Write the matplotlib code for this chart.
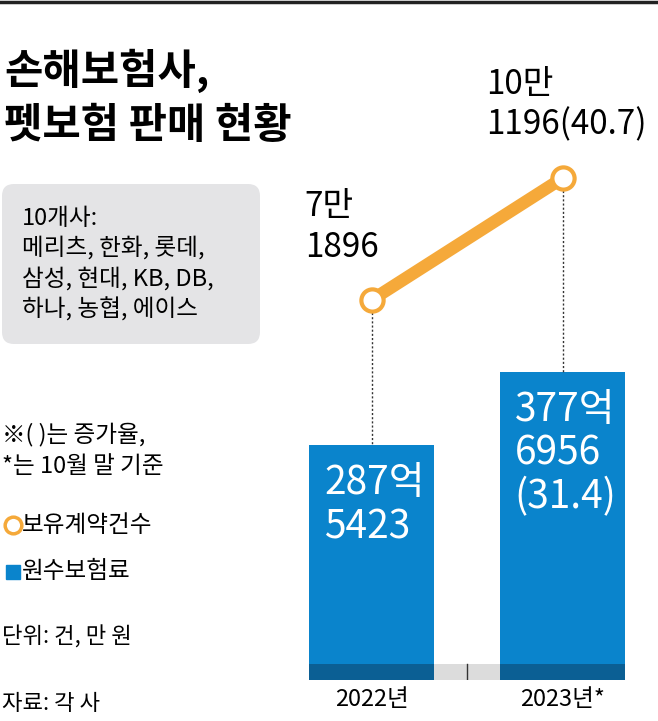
import matplotlib
matplotlib.use("Agg")
import matplotlib.pyplot as plt
from matplotlib.patches import FancyBboxPatch

plt.rcParams['font.family'] = ['Noto Sans CJK KR', 'DejaVu Sans']

years = ["2022년", "2023년*"]
premium = [287.5423, 377.6956]          # 억 원
contracts = [7.1896, 10.1196]           # 만 건
premium_labels = ["287억\n5423", "377억\n6956\n(31.4)"]
contract_labels = ["7만\n1896", "10만\n1196(40.7)"]

W, H = 658, 721
fig = plt.figure(figsize=(W/100, H/100), dpi=100)
bg = fig.add_axes([0, 0, 1, 1]); bg.set_xlim(0, W); bg.set_ylim(H, 0); bg.axis('off')

def px(x0, y0, x1, y1):
    return [x0/W, 1-y1/H, (x1-x0)/W, (y1-y0)/H]

ax = fig.add_axes(px(280, 60, 658, 680))
ax.set_xlim(-0.48, 1.50); ax.set_ylim(0, 760); ax.axis('off')
x = [0, 1]
ax.bar(x, premium, width=0.655, color='#0a84cc', zorder=2)
ax.bar(x, [20, 20], width=0.655, color='#0b5f94', zorder=3)
ax.bar([0.5], [20], width=0.345, color='#dcdcdc', zorder=1)
ax.plot([0.5, 0.5], [0, 20], color='#333', lw=1, zorder=4)
for xi, v, lab in zip(x, premium, premium_labels):
    ax.text(xi - 0.25, v - 22, lab, color='white', fontsize=28, va='top', ha='left', linespacing=1.12)
for xi, lab in zip(x, years):
    ax.text(xi, -10, lab, ha='center', va='top', fontsize=17)

ax2 = fig.add_axes(px(280, 60, 658, 680))
ax2.set_xlim(-0.48, 1.50); ax2.set_ylim(-1.95, 12.96); ax2.axis('off')
ax2.plot(x, contracts, color='#f5a93a', lw=9, solid_capstyle='butt', zorder=2)
ax2.plot(x, contracts, 'o', ms=16, mfc='white', mec='#f5a93a', mew=3, zorder=3)
for xi, v, pv in zip(x, contracts, premium):
    ax2.plot([xi, xi], [v, (pv/760)*14.91 - 1.95], ls=(0, (1.5, 1.5)), color='#333', lw=1, zorder=1)
ax2.text(0 - 0.35, contracts[0] + 0.85, contract_labels[0], fontsize=24, va='bottom', ha='left', linespacing=1.2)
ax2.text(1 - 0.4, contracts[1] + 0.85, contract_labels[1], fontsize=24, va='bottom', ha='left', linespacing=1.2)

bg.plot([0, W], [2, 2], color='#222', lw=2.5)
bg.text(4, 98, "손해보험사,\n펫보험 판매 현황", fontsize=30, fontweight='bold', va='center', linespacing=1.35)
bg.add_patch(FancyBboxPatch((2, 184), 258, 160, boxstyle="round,pad=0,rounding_size=12", fc='#e4e4e6', ec='none'))
bg.text(22, 264, "10개사:\n메리츠, 한화, 롯데,\n삼성, 현대, KB, DB,\n하나, 농협, 에이스", fontsize=17, va='center', linespacing=1.35)
bg.text(2, 450, "※( )는 증가율,\n*는 10월 말 기준", fontsize=17, va='center', linespacing=1.45)
bg.plot([13], [525], 'o', ms=12, mfc='white', mec='#f5a93a', mew=2.5)
bg.text(22, 525, "보유계약건수", fontsize=17, va='center')
bg.plot([13], [572], 's', ms=10, color='#0a84cc')
bg.text(22, 572, "원수보험료", fontsize=17, va='center')
bg.text(2, 637, "단위: 건, 만 원", fontsize=16, va='center')
bg.text(2, 703, "자료: 각 사", fontsize=16, va='center')

fig.savefig("out.png", dpi=100)
